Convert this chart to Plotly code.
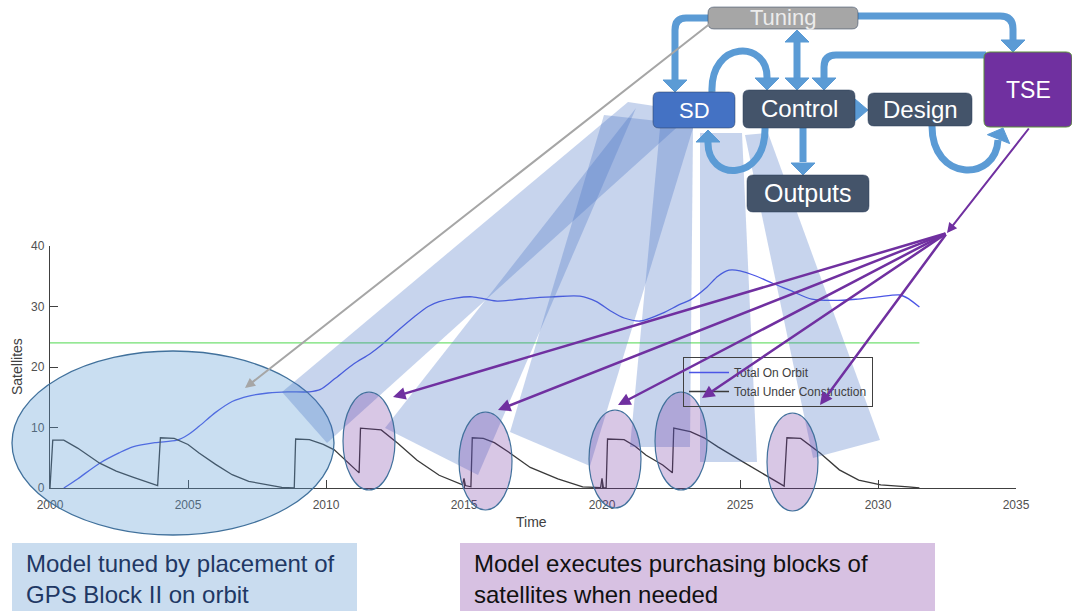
import plotly.graph_objects as go

W, H = 1072, 613

# ---- chart data ----
orbit_years = [2000.5, 2001.0, 2001.8, 2002.5, 2003.0, 2003.8, 2004.6, 2005.0, 2005.4, 2006.0,
               2006.6, 2007.2, 2007.9, 2008.6, 2009.4, 2009.8, 2010.3, 2011.0, 2011.6, 2012.0,
               2012.6, 2013.2, 2013.7, 2014.1, 2014.7, 2015.3, 2015.8, 2016.2, 2016.8, 2017.4,
               2018.2, 2019.2, 2019.8, 2020.3, 2020.8, 2021.4, 2022.2, 2022.8, 2023.2, 2023.8,
               2024.2, 2024.6, 2025.0, 2025.6, 2026.2, 2026.8, 2027.6, 2028.4, 2029.2, 2030.0,
               2030.8, 2031.1, 2031.5]
on_orbit = [0, 1.5, 4.1, 5.8, 6.8, 7.5, 7.9, 8.8, 10.2, 12.5,
            14.3, 15.2, 15.7, 15.9, 15.9, 16.3, 18.0, 20.5, 22.2, 23.6,
            26.0, 28.3, 30.0, 30.8, 31.4, 31.6, 31.2, 30.9, 31.1, 31.4,
            31.6, 31.7, 30.8, 29.3, 28.1, 27.6, 28.9, 30.3, 31.1, 33.2,
            35.0, 36.0, 35.9, 35.0, 33.8, 32.7, 31.2, 31.0, 31.2, 31.6,
            31.9, 31.3, 29.9]

build_years = [2000.0, 2000.1, 2000.5, 2001.0, 2001.8, 2002.4, 2003.0, 2003.8, 2003.9,
               2004.0, 2004.5, 2005.0, 2005.4, 2006.0, 2006.6, 2007.2, 2007.9, 2008.4, 2008.85,
               2008.9, 2009.4, 2009.9, 2010.3, 2010.7, 2011.1, 2011.2,
               2011.25, 2012.0, 2012.6, 2013.3, 2014.1, 2014.95, 2015.0, 2015.05, 2015.25,
               2015.3, 2015.7, 2016.1, 2016.6, 2017.4, 2018.4, 2019.3, 2019.95, 2020.0, 2020.05, 2020.15,
               2020.2, 2020.8, 2021.2, 2021.6, 2022.2, 2022.55,
               2022.6, 2023.2, 2023.7, 2024.2, 2025.0, 2025.6, 2026.2, 2026.6,
               2026.7, 2027.2, 2027.9, 2028.6, 2029.3, 2030.1, 2031.1, 2031.5]
under_construction = [0, 7.9, 7.9, 6.6, 4.1, 2.8, 1.8, 0.5, 0.4,
                      8.3, 8.2, 7.2, 5.8, 3.9, 2.2, 1.1, 0.5, 0.1, 0,
                      8.1, 8.0, 7.2, 6.3, 4.6, 3.0, 2.5,
                      9.9, 9.6, 7.4, 4.6, 2.1, 0.5, 1.6, 0.4, 0.2,
                      8.3, 8.2, 7.5, 6.0, 3.4, 1.5, 0.2, 0.05, 1.6, 0.05, 0,
                      8.1, 8.0, 6.9, 5.4, 3.8, 2.5,
                      9.9, 9.3, 8.3, 6.8, 4.6, 3.0, 1.3, 0.3,
                      8.3, 8.2, 5.8, 3.0, 1.3, 0.5, 0.2, 0]

required_years = [2000, 2031.5]
required_level = [24, 24]

x_ticks = [2000, 2005, 2010, 2015, 2020, 2025, 2030, 2035]
y_ticks = [0, 10, 20, 30, 40]

# ---- diagram text ----
box_names = ["Tuning", "SD", "Control", "Design", "TSE", "Outputs"]
caption_left = "Model tuned by placement of<br>GPS Block II on orbit"
caption_right = "Model executes purchasing blocks of<br>satellites when needed"

# ---- layout geometry in page pixels ----
PLOT_L, PLOT_R, PLOT_T, PLOT_B = 50, 1016, 246, 488

box_rects = {
    "Tuning": (708, 7, 858, 29, "#a6a6a6", "#ececec", 22),
    "SD": (653, 92, 735, 128, "#4472c4", "white", 22),
    "Control": (743, 90, 855, 128, "#44546a", "white", 24),
    "Design": (868, 93, 972, 126, "#44546a", "white", 24),
    "TSE": (984, 52, 1072, 127, "#7030a0", "white", 23),
    "Outputs": (747, 175, 869, 212, "#44546a", "white", 25),
}

beams = [
    [(628, 102), (694, 112), (327, 443), (282, 392)],
    [(636, 108), (478, 475), (385, 428)],
    [(604, 115), (694, 125), (590, 466), (510, 432)],
    [(660, 128), (693, 128), (690, 447), (630, 447)],
    [(700, 133), (742, 133), (757, 462), (700, 462)],
    [(745, 135), (768, 133), (880, 440), (813, 458)],
]

purple_ellipses = [(343, 392, 395, 490), (459, 412, 512, 510), (589, 410, 641, 508),
                   (655, 392, 707, 490), (767, 413, 818, 511)]
hub = (947, 233)
fan_targets = [(393, 397), (498, 410), (618, 405), (702, 398), (820, 405)]


def P(x, y):
    return f"{x / W:.5f},{1 - y / H:.5f}"


def poly(pts):
    return "M" + " L".join(P(*p) for p in pts) + " Z"


def rrect(x0, y0, x1, y1, r):
    return (f"M{P(x0 + r, y0)} L{P(x1 - r, y0)} Q{P(x1, y0)} {P(x1, y0 + r)} "
            f"L{P(x1, y1 - r)} Q{P(x1, y1)} {P(x1 - r, y1)} L{P(x0 + r, y1)} "
            f"Q{P(x0, y1)} {P(x0, y1 - r)} L{P(x0, y0 + r)} Q{P(x0, y0)} {P(x0 + r, y0)} Z")


shapes = []


def add_path(path, fill="rgba(0,0,0,0)", line="rgba(0,0,0,0)", width=0):
    shapes.append(dict(type="path", xref="paper", yref="paper", path=path, fillcolor=fill,
                       line=dict(color=line, width=width), layer="above"))


def add_ellipse(x0, y0, x1, y1, fill, line, width):
    shapes.append(dict(type="circle", xref="paper", yref="paper", x0=x0 / W, x1=x1 / W,
                       y0=1 - y1 / H, y1=1 - y0 / H, fillcolor=fill,
                       line=dict(color=line, width=width), layer="above"))


# big tuning ellipse
add_ellipse(12, 351, 334, 535, "rgba(91,155,213,0.33)", "#41719c", 1.3)

# light beams from SD
for b in beams:
    add_path(poly(b), fill="rgba(68,114,196,0.30)")

for e in purple_ellipses:
    add_ellipse(*e, "rgba(112,48,160,0.27)", "#41719c", 1.2)

# caption backgrounds
shapes.append(dict(type="rect", xref="paper", yref="paper", x0=12 / W, x1=357 / W,
                   y0=1 - 611 / H, y1=1 - 543 / H, fillcolor="#c9dcef", line=dict(width=0), layer="above"))
shapes.append(dict(type="rect", xref="paper", yref="paper", x0=460 / W, x1=935 / W,
                   y0=1 - 611 / H, y1=1 - 543 / H, fillcolor="#d7c1e2", line=dict(width=0), layer="above"))

# thick blue flow arrows
ARROW = "#5b9bd5"
SW = 7


def head(tip, direction, size=12, half=12):
    tx, ty = tip
    dx, dy = direction
    n = (dx * dx + dy * dy) ** 0.5
    dx, dy = dx / n, dy / n
    bx, by = tx - dx * size, ty - dy * size
    px_, py_ = -dy, dx
    return poly([(bx + px_ * half, by + py_ * half), (tx, ty), (bx - px_ * half, by - py_ * half)])


flows = [
    (f"M{P(710, 18)} L{P(686, 18)} Q{P(675, 18)} {P(675, 30)} L{P(675, 80)}", (675, 92), (0, 1)),
    (f"M{P(856, 16)} L{P(1000, 16)} Q{P(1013, 16)} {P(1013, 29)} L{P(1013, 40)}", (1013, 52), (0, 1)),
    (f"M{P(797, 42)} L{P(797, 78)}", (797, 90), (0, 1)),
    (f"M{P(986, 55)} L{P(836, 55)} Q{P(824, 55)} {P(824, 67)} L{P(824, 78)}", (824, 90), (0, 1)),
    (f"M{P(712, 92)} C{P(710, 40)} {P(768, 40)} {P(767, 78)}", (767, 90), (0, 1)),
    (f"M{P(765, 128)} C{P(766, 182)} {P(707, 182)} {P(708, 142)}", (708, 130), (0, -1)),
    (f"M{P(803, 128)} L{P(803, 162)}", (803, 175), (0, 1)),
    (f"M{P(932, 126)} C{P(932, 182)} {P(996, 182)} {P(998, 140)}", (1003, 128), (0.4, -1)),
]
for path, tip, d in flows:
    add_path(path, line=ARROW, width=SW)
    add_path(head(tip, d), fill=ARROW, line=ARROW, width=1)
add_path(head((797, 30), (0, -1)), fill=ARROW, line=ARROW, width=1)
add_path(poly([(855, 99), (868, 110), (855, 121)]), fill=ARROW, line=ARROW, width=1)

# boxes
for name in box_names:
    x0, y0, x1, y1, fill, _, _ = box_rects[name]
    border = "#5a8f3a" if name == "TSE" else "rgba(40,60,90,0.5)"
    add_path(rrect(x0, y0, x1, y1, 6), fill=fill, line=border, width=1)

annotations = []
for name in box_names:
    x0, y0, x1, y1, _, color, size = box_rects[name]
    annotations.append(dict(x=(x0 + x1) / 2 / W, y=1 - (y0 + y1) / 2 / H, xref="paper", yref="paper",
                            text=name, showarrow=False, xanchor="center", yanchor="middle",
                            font=dict(family="Liberation Sans, Arial, sans-serif", size=size, color=color)))


def arrow(tail, tip, color, width, size=1.0):
    annotations.append(dict(x=tip[0] / W, y=1 - tip[1] / H, xref="paper", yref="paper",
                            ax=tail[0] - tip[0], ay=tail[1] - tip[1], axref="pixel", ayref="pixel",
                            text="", showarrow=True, arrowhead=2, arrowsize=size,
                            arrowwidth=width, arrowcolor=color))


arrow((712, 22), (245, 388), "#a6a6a6", 2)
arrow((1030, 127), hub, "#7030a0", 2)
for t in fan_targets:
    arrow(hub, t, "#7030a0", 2.5)

FONT = "Liberation Sans, Arial, sans-serif"
annotations.append(dict(x=24 / W, y=1 - 548 / H, xref="paper", yref="paper", text=caption_left,
                        showarrow=False, xanchor="left", yanchor="top", align="left",
                        font=dict(family=FONT, size=24, color="#1f3864")))
annotations.append(dict(x=472 / W, y=1 - 548 / H, xref="paper", yref="paper", text=caption_right,
                        showarrow=False, xanchor="left", yanchor="top", align="left",
                        font=dict(family=FONT, size=24, color="#111111")))
annotations.append(dict(x=531 / W, y=1 - 522 / H, xref="paper", yref="paper", text="Time",
                        showarrow=False, xanchor="center", yanchor="middle",
                        font=dict(family=FONT, size=14, color="#404040")))
annotations.append(dict(x=17 / W, y=1 - 367 / H, xref="paper", yref="paper", text="Satellites",
                        showarrow=False, xanchor="center", yanchor="middle", textangle=-90,
                        font=dict(family=FONT, size=14, color="#404040")))

fig = go.Figure()
fig.add_trace(go.Scatter(x=orbit_years, y=on_orbit, mode="lines", name="Total On Orbit",
                         line=dict(color="#4b55e6", width=1.3, shape="spline", smoothing=0.8)))
fig.add_trace(go.Scatter(x=build_years, y=under_construction, mode="lines", name="Total Under Construction",
                         line=dict(color="#3a3a3a", width=1.3)))
fig.add_trace(go.Scatter(x=required_years, y=required_level, mode="lines", showlegend=False,
                         line=dict(color="#72e072", width=1.3)))

fig.update_layout(
    width=W, height=H, autosize=False,
    margin=dict(l=0, r=0, t=0, b=0, pad=0, autoexpand=False),
    paper_bgcolor="white", plot_bgcolor="rgba(0,0,0,0)",
    font=dict(family=FONT, color="#404040"),
    xaxis=dict(domain=[PLOT_L / W, PLOT_R / W], range=[2000, 2035], tickvals=x_ticks, automargin=False,
               ticks="inside", ticklen=8, tickcolor="#404040", showline=True, linecolor="#404040",
               linewidth=1.3, showgrid=False, zeroline=False, ticklabelstandoff=5,
               tickfont=dict(size=12, color="#505050")),
    yaxis=dict(domain=[1 - PLOT_B / H, 1 - PLOT_T / H], range=[0, 40], tickvals=y_ticks, automargin=False,
               ticks="inside", ticklen=8, tickcolor="#404040", showline=True, linecolor="#404040",
               linewidth=1.3, showgrid=False, zeroline=False, ticklabelstandoff=2,
               tickfont=dict(size=12, color="#505050")),
    legend=dict(x=683 / W, y=1 - 357 / H, xanchor="left", yanchor="top", bgcolor="rgba(0,0,0,0)",
                bordercolor="#404040", borderwidth=1, font=dict(size=12, color="#404040"),
                itemwidth=40, tracegroupgap=0),
    shapes=shapes,
    annotations=annotations,
    hovermode=False,
)

fig.write_html("out.html", config={"displayModeBar": False},
               post_script="document.body.style.margin='0';")
